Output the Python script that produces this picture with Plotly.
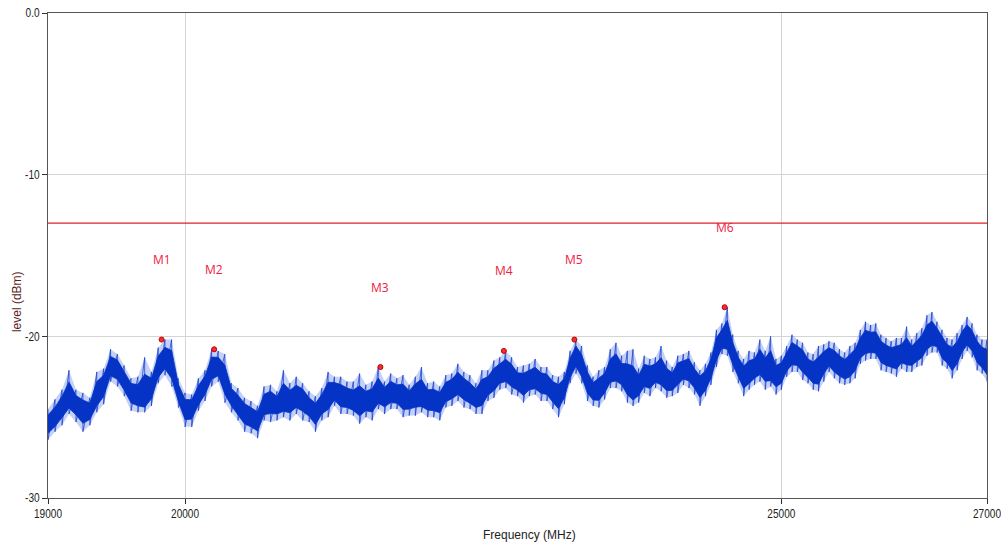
import numpy as np
import plotly.graph_objects as go

# ---------------- data ----------------
FREQ_MHZ = list(range(19000, 27001, 50))  # sweep grid

LEVEL_CENTER_DBM = [
    -25.4, -25.1, -24.3, -23.9, -24.2, -24.6, -24.6, -23.7, -23.0, -21.9, -22.0,
    -22.8, -23.4, -23.7, -23.9, -23.2, -22.0, -21.4, -21.9, -23.5, -24.5,
    -24.4, -23.7, -23.0, -22.0, -21.9, -22.8, -23.7, -24.3, -24.7, -25.0,
    -25.2, -24.3, -24.0, -24.2, -24.1, -24.0, -23.8, -23.8, -24.4, -24.8,
    -24.2, -23.8, -23.4, -23.7, -23.8, -24.1, -24.2, -24.0, -23.9, -23.6,
    -23.7, -23.5, -23.6, -23.8, -23.9, -23.6, -23.8, -23.9, -24.0, -24.0,
    -23.5, -23.2, -23.0, -23.2, -23.6, -23.8, -23.5, -23.1, -22.7, -22.3,
    -22.2, -22.4, -22.8, -23.0, -22.7, -22.7, -22.8, -23.0, -23.4, -23.7,
    -23.2, -22.0, -21.2, -21.9, -22.8, -23.4, -23.3, -22.9, -22.3, -22.1,
    -22.4, -22.9, -23.4, -23.0, -22.5, -22.5, -22.3, -22.4, -22.7, -22.8,
    -22.3, -22.1, -22.1, -22.6, -23.0, -22.8, -22.0, -20.8, -20.2, -20.2,
    -21.1, -21.9, -22.5, -22.4, -22.0, -21.7, -22.0, -22.2, -22.4, -22.3,
    -21.6, -21.1, -21.2, -21.5, -22.0, -22.3, -22.3, -21.6, -21.3, -21.6,
    -21.8, -22.1, -21.9, -21.4, -20.8, -20.4, -20.4, -20.5, -20.9, -21.2,
    -21.3, -21.3, -21.1, -21.1, -21.2, -21.0, -20.6, -20.2, -19.9, -20.1,
    -20.7, -21.1, -21.4, -21.1, -20.3, -20.0, -20.3, -20.9, -21.4, -21.7,
]

# peak excursion above / below the centre of the noise band (dB)
NOISE_UP_DB = [
    0.9, 1.2, 1.0, 1.8, 0.9, 1.1, 0.8, 1.5, 1.0, 1.1, 0.9,
    1.0, 0.8, 1.2, 2.6, 1.0, 1.3, 1.2, 1.7, 0.9, 1.0,
    0.8, 1.1, 0.9, 1.2, 1.0, 1.7, 0.8, 1.1, 0.9, 1.0,
    0.9, 1.2, 1.0, 0.8, 2.0, 1.1, 1.3, 0.9, 1.0, 1.1,
    1.0, 1.6, 0.9, 1.2, 1.0, 1.3, 1.9, 1.0, 1.1, 1.7,
    0.9, 1.2, 1.0, 1.4, 0.9, 1.1, 1.9, 1.0, 1.2, 0.9,
    1.1, 0.9, 1.3, 1.0, 1.2, 0.9, 1.4, 1.0, 1.2, 1.0,
    1.3, 1.1, 0.9, 1.2, 1.0, 1.3, 0.9, 1.1, 1.0, 1.2,
    1.0, 1.1, 1.0, 1.3, 1.0, 0.9, 1.2, 1.0, 1.5, 1.7,
    1.2, 2.0, 2.6, 1.0, 1.3, 1.1, 1.0, 1.8, 1.2, 0.9,
    1.1, 1.0, 1.2, 1.0, 0.9, 1.1, 1.0, 1.2, 1.0, 2.0,
    1.2, 1.0, 1.1, 1.5, 1.0, 1.5, 1.1, 2.2, 1.0, 1.1,
    1.0, 1.2, 1.0, 1.1, 1.0, 1.2, 1.7, 1.1, 1.0, 1.2,
    1.0, 1.1, 1.3, 1.0, 1.2, 1.3, 1.1, 1.3, 1.0, 1.1,
    1.0, 1.2, 1.0, 1.7, 1.0, 1.2, 1.1, 1.5, 1.4, 1.0,
    1.1, 1.0, 1.2, 1.3, 1.0, 1.2, 1.1, 1.0, 1.2, 1.5,
]
NOISE_DOWN_DB = [
    1.0, 0.8, 1.2, 0.9, 1.1, 1.3, 0.9, 1.0, 1.2, 0.9, 1.1,
    0.9, 1.2, 1.0, 0.8, 1.1, 0.9, 1.0, 1.2, 0.9, 1.1,
    1.2, 0.9, 1.0, 1.1, 0.9, 1.3, 1.0, 0.9, 1.2, 1.0,
    1.1, 0.9, 1.3, 1.0, 0.9, 1.2, 1.0, 1.4, 0.9, 1.1,
    1.0, 1.2, 0.9, 1.1, 1.0, 0.8, 1.2, 1.0, 1.3, 0.9,
    1.1, 1.0, 0.9, 1.2, 1.0, 1.3, 0.9, 1.1, 1.0, 1.2,
    0.9, 1.1, 1.0, 1.2, 0.9, 1.0, 1.3, 0.9, 1.1, 1.0,
    1.0, 1.2, 0.9, 1.1, 1.0, 0.9, 1.2, 1.0, 1.1, 1.3,
    1.0, 0.9, 1.1, 1.0, 1.2, 0.9, 1.1, 1.0, 0.9, 1.1,
    1.0, 1.2, 0.9, 1.1, 1.0, 1.2, 0.9, 1.0, 1.1, 0.9,
    1.2, 0.9, 1.1, 1.0, 1.3, 0.9, 1.0, 1.1, 0.9, 1.0,
    1.1, 1.0, 1.2, 0.9, 1.0, 1.1, 1.3, 0.9, 1.2, 1.0,
    0.9, 1.1, 1.0, 1.2, 0.9, 1.0, 1.1, 1.2, 0.9, 1.0,
    1.1, 0.9, 1.0, 1.2, 0.9, 1.1, 1.0, 0.9, 1.2, 1.0,
    1.0, 1.2, 0.9, 1.1, 1.0, 0.9, 1.2, 1.0, 1.1, 0.9,
    1.1, 0.9, 1.2, 1.0, 1.1, 0.9, 1.0, 1.2, 0.9, 1.1,
]

MARKER_NAMES = ["M1", "M2", "M3", "M4", "M5", "M6"]
MARKER_FREQ_MHZ = [19825, 20219, 21517, 22534, 23137, 24475]
MARKER_LEVEL_DBM = [-20.2, -20.8, -21.9, -20.9, -20.2, -18.2]

LIMIT_DBM = -13.0

X_TICKS = [19000, 20000, 25000, 27000]
Y_TICKS = [-30, -20, -10, 0]
Y_TICK_TEXT = ["-30", "-20", "-10", "0.0"]

# ---------------- figure ----------------
FONT = "Liberation Sans, Arial, sans-serif"
BLUE = "#0433c6"

upper = [c + u for c, u in zip(LEVEL_CENTER_DBM, NOISE_UP_DB)]
lower = [c - d for c, d in zip(LEVEL_CENTER_DBM, NOISE_DOWN_DB)]
core_hi = [c + 0.6 * u for c, u in zip(LEVEL_CENTER_DBM, NOISE_UP_DB)]
core_lo = [c - 0.6 * d for c, d in zip(LEVEL_CENTER_DBM, NOISE_DOWN_DB)]

# peak/min detector zigzag: max then min at every sweep point
zig_x, zig_y = [], []
for f, hi, lo in zip(FREQ_MHZ, upper, lower):
    zig_x += [f, f]
    zig_y += [hi, lo]

fig = go.Figure()
# light envelope of the noisy sweep
fig.add_trace(go.Scatter(
    x=FREQ_MHZ + FREQ_MHZ[::-1], y=upper + lower[::-1],
    mode="lines", fill="toself", fillcolor="rgba(60,100,225,0.30)",
    line=dict(width=0), hoverinfo="skip", showlegend=False,
))
# spiky min/max detector trace
fig.add_trace(go.Scatter(
    x=zig_x, y=zig_y, mode="lines",
    line=dict(color="rgba(20,60,210,0.75)", width=1),
    hoverinfo="skip", showlegend=False,
))
# dense core of the sweep
fig.add_trace(go.Scatter(
    x=FREQ_MHZ + FREQ_MHZ[::-1], y=core_hi + core_lo[::-1],
    mode="lines", fill="toself", fillcolor=BLUE,
    line=dict(color=BLUE, width=0.8),
    hoverinfo="skip", showlegend=False,
))
fig.add_trace(go.Scatter(
    x=MARKER_FREQ_MHZ, y=MARKER_LEVEL_DBM, mode="markers",
    marker=dict(symbol="circle", size=5, color="#f03030",
                line=dict(color="#c00000", width=1)),
    showlegend=False,
))
fig.add_hline(y=LIMIT_DBM, line=dict(color="#e02020", width=1.3))

for name, f, lv in zip(MARKER_NAMES, MARKER_FREQ_MHZ, MARKER_LEVEL_DBM):
    fig.add_annotation(
        x=np.log10(f), y=lv, text=name, showarrow=False,
        yshift=80, font=dict(family="Open Sans, sans-serif", size=12, color="#f02040"),
    )

fig.add_annotation(
    xref="paper", yref="paper", x=-0.033, y=0.404, text="level (dBm)",
    textangle=-90, showarrow=False, xanchor="center", yanchor="middle",
    font=dict(family=FONT, size=12, color="#5a1e1e"),
)
fig.add_annotation(
    xref="paper", yref="paper", x=0.513, y=-0.076, text="Frequency (MHz)",
    showarrow=False, xanchor="center", yanchor="middle",
    font=dict(family=FONT, size=12, color="#222222"),
)

fig.update_xaxes(
    type="log",
    range=[np.log10(FREQ_MHZ[0]), np.log10(FREQ_MHZ[-1])],
    tickvals=X_TICKS, ticktext=[str(v) for v in X_TICKS],
    showgrid=True, gridcolor="#d4d4d4", gridwidth=1,
    ticks="outside", ticklen=5, tickcolor="#333333",
    showline=True, linecolor="#555555", linewidth=1, mirror=True,
    zeroline=False, automargin=False, ticklabeloverflow="allow",
    tickfont=dict(family=FONT, size=12, color="#222222"),
)
fig.update_yaxes(
    range=[-30, 0],
    tickvals=Y_TICKS, ticktext=Y_TICK_TEXT,
    showgrid=True, gridcolor="#d4d4d4", gridwidth=1,
    ticks="outside", ticklen=5, tickcolor="#333333",
    showline=True, linecolor="#555555", linewidth=1, mirror=True,
    zeroline=False, automargin=False, ticklabeloverflow="allow",
    tickfont=dict(family=FONT, size=12, color="#222222"),
)

fig.update_layout(
    width=1001, height=543,
    margin=dict(l=48, r=14, t=13, b=45),
    paper_bgcolor="white", plot_bgcolor="white",
    showlegend=False,
)

# narrow (condensed) rendering of the axis texts, as in the reference
POST_JS = """
document.body.style.margin='0';
document.body.style.overflow='hidden';
var gd = document.getElementById('{plot_id}');
gd.querySelectorAll('.xtick text, .ytick text').forEach(function(t){
  var x = parseFloat(t.getAttribute('x') || '0');
  var tr = t.getAttribute('transform') || '';
  t.setAttribute('transform', tr + ' translate(' + x + ',0) scale(0.84,1) translate(' + (-x) + ',0)');
});
"""

fig.write_html(
    "out.html",
    config={"displayModeBar": False},
    post_script=POST_JS,
)
